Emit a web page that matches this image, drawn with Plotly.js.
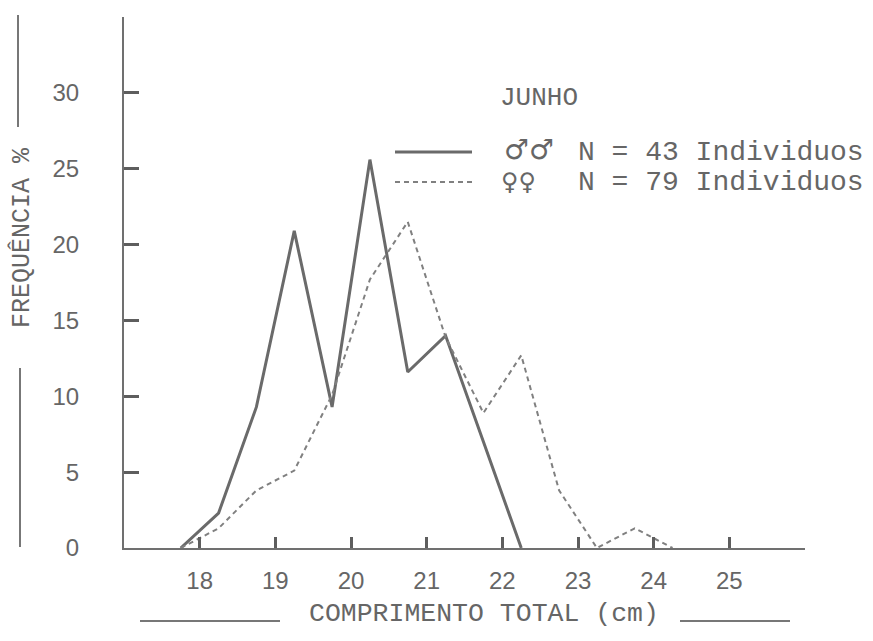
<!DOCTYPE html>
<html>
<head>
<meta charset="utf-8">
<script src="https://cdn.plot.ly/plotly-3.0.1.min.js"></script>
<style>
  html, body { margin: 0; padding: 0; background: #ffffff; }
  #chart { width: 873px; height: 641px; }
</style>
</head>
<body>
<div id="chart"></div>
<script>
// ---- data ----
const maleLength   = [17.75, 18.25, 18.75, 19.25, 19.75, 20.25, 20.75, 21.25, 21.75, 22.25];
const malePct      = [0, 2.3, 9.3, 20.9, 9.3, 25.6, 11.6, 14.0, 7.0, 0];
const femaleLength = [17.75, 18.25, 18.75, 19.25, 19.75, 20.25, 20.75, 21.25, 21.75, 22.25, 22.75, 23.25, 23.75, 24.25];
const femalePct    = [0, 1.3, 3.8, 5.1, 10.1, 17.7, 21.5, 13.9, 8.9, 12.7, 3.8, 0, 1.3, 0];
const xTicks = [18, 19, 20, 21, 22, 23, 24, 25];
const yTicks = [0, 5, 10, 15, 20, 25, 30];
const monthLabel = "JUNHO";
const maleLabel = "N = 43 Individuos";
const femaleLabel = "N = 79 Individuos";
const maleSymbol = "\u2642\u2642";
const femaleSymbol = "\u2640\u2640";
const xTitle = "COMPRIMENTO TOTAL (cm)";
const yTitle = "FREQUÊNCIA %";

// ---- layout geometry (pixels) ----
const W = 873, H = 641;
const M = { l: 124, r: 68, t: 17, b: 93 };
const PW = W - M.l - M.r, PH = H - M.t - M.b;
const px = v => (v - M.l) / PW;          // pixel x -> paper
const py = v => (H - M.b - v) / PH;      // pixel y -> paper

const ink = '#666666';
const axisCol = '#5e5e5e';
const typeFont = 'Courier New, Liberation Mono, monospace';

const traces = [
  { x: maleLength, y: malePct, type: 'scatter', mode: 'lines',
    line: { color: '#6a6a6a', width: 3 }, hoverinfo: 'skip', showlegend: false },
  { x: femaleLength, y: femalePct, type: 'scatter', mode: 'lines',
    line: { color: '#808080', width: 2, dash: '5px,4px' }, hoverinfo: 'skip', showlegend: false }
];

const lineShape = (x0, y0, x1, y1, w, dash, col) => ({
  type: 'line', xref: 'paper', yref: 'paper',
  x0: px(x0), y0: py(y0), x1: px(x1), y1: py(y1),
  line: { color: col || '#777777', width: w, dash: dash || 'solid' }
});

const ann = (text, x, y, size, extra) => Object.assign({
  text: text, xref: 'paper', yref: 'paper', x: px(x), y: py(y),
  xanchor: 'center', yanchor: 'middle', showarrow: false,
  font: { family: typeFont, size: size, color: ink }
}, extra || {});

const layout = {
  width: W, height: H,
  margin: M,
  paper_bgcolor: '#ffffff', plot_bgcolor: '#ffffff',
  showlegend: false,
  xaxis: {
    range: [17, 26], tickvals: xTicks, ticktext: xTicks.map(String),
    showline: true, linecolor: '#707070', linewidth: 2,
    ticks: 'inside', ticklen: 11, tickwidth: 3, tickcolor: axisCol,
    showgrid: false, zeroline: false, ticklabelstandoff: 10,
    tickfont: { family: 'Liberation Sans, Arial, sans-serif', size: 24, color: ink }
  },
  yaxis: {
    range: [0, 35], tickvals: yTicks, ticktext: yTicks.map(String),
    showline: true, linecolor: '#707070', linewidth: 2,
    ticks: 'inside', ticklen: 15, tickwidth: 3, tickcolor: axisCol,
    showgrid: false, zeroline: false, ticklabelstandoff: 38,
    tickfont: { family: 'Liberation Sans, Arial, sans-serif', size: 24, color: ink }
  },
  shapes: [
    // legend sample lines
    lineShape(395, 152, 472, 152, 3, 'solid', '#6a6a6a'),
    lineShape(395, 182, 472, 182, 2, '5px,4px', '#808080'),
    // decorative rules around axis titles
    lineShape(18, 15, 18, 127, 2),
    lineShape(20, 368, 20, 547, 2),
    lineShape(140, 621, 280, 621, 2),
    lineShape(680, 621, 790, 621, 2)
  ],
  annotations: [
    ann(monthLabel, 539, 98, 26),
    ann(maleSymbol, 529, 150, 28, { font: { family: 'DejaVu Sans, sans-serif', size: 28, color: ink } }),
    ann(femaleSymbol, 518, 182, 24, { font: { family: 'DejaVu Sans, sans-serif', size: 24, color: ink } }),
    ann(maleLabel, 576, 152, 28, { xanchor: 'left' }),
    ann(femaleLabel, 576, 182, 28, { xanchor: 'left' }),
    ann(xTitle, 484, 614, 26.5),
    ann(yTitle, 22, 238, 25, { textangle: -90 })
  ]
};

Plotly.newPlot('chart', traces, layout, { staticPlot: true, displayModeBar: false });
</script>
</body>
</html>
